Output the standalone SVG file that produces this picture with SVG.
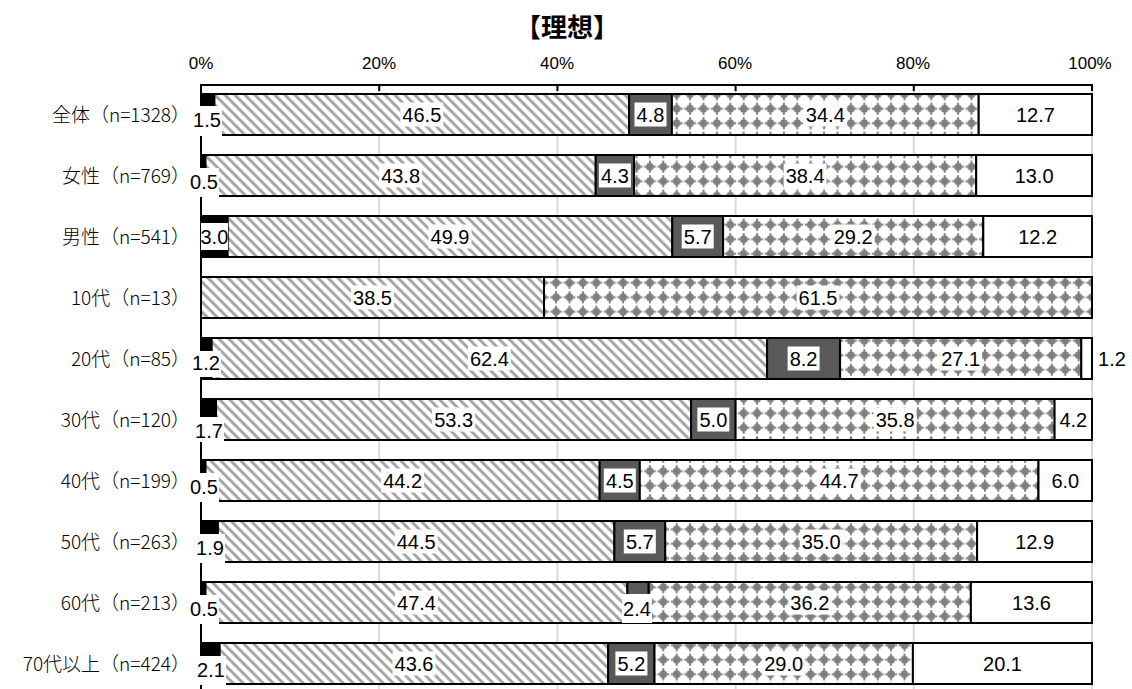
<svg xmlns="http://www.w3.org/2000/svg" width="1132" height="689" viewBox="0 0 1132 689">
<style>
.title{font-family:"Noto Sans CJK JP","Liberation Sans",sans-serif;font-size:26px;font-weight:bold;text-anchor:middle;fill:#000}
.ax{font-family:"Liberation Sans","DejaVu Sans",sans-serif;font-size:17px;text-anchor:middle;fill:#000}
.cat{font-family:"Noto Sans CJK JP","Liberation Sans",sans-serif;font-size:19px;font-weight:300;text-anchor:end;fill:#000}
.v{font-family:"Liberation Sans","DejaVu Sans",sans-serif;font-size:20px;text-anchor:middle;fill:#000}
.grid{stroke:#d9d9d9;stroke-width:2}
.seg{stroke:#000;stroke-width:2}
.k{fill:#000}
.h{fill:url(#hatch)}
.d{fill:#595959}
.p{fill:url(#dots)}
.w{fill:#fff}
.lb{fill:#fff}
</style>
<defs>
<pattern id="hatch" patternUnits="userSpaceOnUse" width="10" height="10">
<rect width="10" height="10" fill="#fff"/>
<path d="M-3,-3 L13,13 M-3,7 L3,13 M7,-3 L13,3" stroke="#a6a6a6" stroke-width="3"/>
</pattern>
<pattern id="dots" patternUnits="userSpaceOnUse" width="13.4" height="14.5">
<rect width="13.4" height="14.5" fill="#fff"/>
<circle cx="6.7" cy="7.25" r="3.8" fill="#7f7f7f"/>
<path d="M0.8,7.25 H12.6 M6.7,1.2 V13.3" stroke="#7f7f7f" stroke-width="2"/>
</pattern>
</defs>

<text class="title" x="567" y="37">【理想】</text>

<g id="axis">
<g class="grid">
<line x1="379.2" y1="86" x2="379.2" y2="689"/>
<line x1="557.4" y1="86" x2="557.4" y2="689"/>
<line x1="735.6" y1="86" x2="735.6" y2="689"/>
<line x1="913.8" y1="86" x2="913.8" y2="689"/>
<line x1="1092" y1="86" x2="1092" y2="689"/>
</g>
<line x1="200" y1="85" x2="1093" y2="85" stroke="#000" stroke-width="2"/>
<line x1="201" y1="84" x2="201" y2="689" stroke="#000" stroke-width="2"/>
<g stroke="#000" stroke-width="2">
<line x1="379.2" y1="85" x2="379.2" y2="91"/>
<line x1="557.4" y1="85" x2="557.4" y2="91"/>
<line x1="735.6" y1="85" x2="735.6" y2="91"/>
<line x1="913.8" y1="85" x2="913.8" y2="91"/>
<line x1="1092" y1="85" x2="1092" y2="91"/>
</g>
<text class="ax" x="201" y="69">0%</text>
<text class="ax" x="379" y="69">20%</text>
<text class="ax" x="557" y="69">40%</text>
<text class="ax" x="735" y="69">60%</text>
<text class="ax" x="913" y="69">80%</text>
<text class="ax" x="1090" y="69">100%</text>
</g>

<g id="bars" class="seg">
<g id="row0">
<rect class="k" x="201" y="94" width="13.4" height="41"/>
<rect class="h" x="214.4" y="94" width="414.7" height="41"/>
<rect class="d" x="629.1" y="94" width="42.8" height="41"/>
<rect class="p" x="671.9" y="94" width="306.8" height="41"/>
<rect class="w" x="978.7" y="94" width="113.3" height="41"/>
</g>
<g id="row1">
<rect class="k" x="201" y="155" width="4.5" height="41"/>
<rect class="h" x="205.5" y="155" width="390.2" height="41"/>
<rect class="d" x="595.7" y="155" width="38.3" height="41"/>
<rect class="p" x="634" y="155" width="342.2" height="41"/>
<rect class="w" x="976.2" y="155" width="115.8" height="41"/>
</g>
<g id="row2">
<rect class="k" x="201" y="216" width="26.7" height="41"/>
<rect class="h" x="227.7" y="216" width="444.6" height="41"/>
<rect class="d" x="672.3" y="216" width="50.8" height="41"/>
<rect class="p" x="723.1" y="216" width="260.2" height="41"/>
<rect class="w" x="983.3" y="216" width="108.7" height="41"/>
</g>
<g id="row3">
<rect class="h" x="201" y="277" width="343" height="41"/>
<rect class="p" x="544" y="277" width="548" height="41"/>
</g>
<g id="row4">
<rect class="k" x="201" y="338" width="10.7" height="41"/>
<rect class="h" x="211.7" y="338" width="555.4" height="41"/>
<rect class="d" x="767.1" y="338" width="73" height="41"/>
<rect class="p" x="840.1" y="338" width="241.2" height="41"/>
<rect class="w" x="1081.3" y="338" width="10.7" height="41"/>
</g>
<g id="row5">
<rect class="k" x="201" y="399" width="15.1" height="41"/>
<rect class="h" x="216.1" y="399" width="475" height="41"/>
<rect class="d" x="691.1" y="399" width="44.5" height="41"/>
<rect class="p" x="735.6" y="399" width="319" height="41"/>
<rect class="w" x="1054.6" y="399" width="37.4" height="41"/>
</g>
<g id="row6">
<rect class="k" x="201" y="460" width="4.5" height="41"/>
<rect class="h" x="205.5" y="460" width="394.2" height="41"/>
<rect class="d" x="599.7" y="460" width="40.1" height="41"/>
<rect class="p" x="639.8" y="460" width="398.7" height="41"/>
<rect class="w" x="1038.5" y="460" width="53.5" height="41"/>
</g>
<g id="row7">
<rect class="k" x="201" y="521" width="16.9" height="41"/>
<rect class="h" x="217.9" y="521" width="396.5" height="41"/>
<rect class="d" x="614.4" y="521" width="50.8" height="41"/>
<rect class="p" x="665.2" y="521" width="311.9" height="41"/>
<rect class="w" x="977.1" y="521" width="114.9" height="41"/>
</g>
<g id="row8">
<rect class="k" x="201" y="582" width="4.5" height="41"/>
<rect class="h" x="205.5" y="582" width="421.9" height="41"/>
<rect class="d" x="627.4" y="582" width="21.3" height="41"/>
<rect class="p" x="648.7" y="582" width="322.2" height="41"/>
<rect class="w" x="970.9" y="582" width="121.1" height="41"/>
</g>
<g id="row9">
<rect class="k" x="201" y="643" width="18.7" height="41"/>
<rect class="h" x="219.7" y="643" width="388.5" height="41"/>
<rect class="d" x="608.2" y="643" width="46.3" height="41"/>
<rect class="p" x="654.5" y="643" width="258.4" height="41"/>
<rect class="w" x="912.9" y="643" width="179.1" height="41"/>
</g>
</g>

<g id="categories">
<text class="cat" x="190" y="122">全体（n=1328）</text>
<text class="cat" x="190" y="183">女性（n=769）</text>
<text class="cat" x="190" y="244">男性（n=541）</text>
<text class="cat" x="190" y="305">10代（n=13）</text>
<text class="cat" x="190" y="366">20代（n=85）</text>
<text class="cat" x="190" y="427">30代（n=120）</text>
<text class="cat" x="190" y="488">40代（n=199）</text>
<text class="cat" x="190" y="549">50代（n=263）</text>
<text class="cat" x="190" y="610">60代（n=213）</text>
<text class="cat" x="190" y="671">70代以上（n=424）</text>
</g>

<g id="labels">
<rect class="lb" x="192" y="106" width="30" height="30"/><text class="v" x="207" y="127">1.5</text>
<rect class="lb" x="189" y="168" width="30" height="29"/><text class="v" x="204" y="189">0.5</text>
<rect class="lb" x="201" y="223" width="27" height="27"/><text class="v" x="214.4" y="244">3.0</text>
<rect class="lb" x="191" y="351" width="30" height="26"/><text class="v" x="206" y="370">1.2</text>
<rect class="lb" x="194" y="417" width="30" height="25"/><text class="v" x="209" y="438">1.7</text>
<rect class="lb" x="189" y="473" width="30" height="29"/><text class="v" x="204" y="494">0.5</text>
<rect class="lb" x="195" y="534" width="30" height="29"/><text class="v" x="210" y="555">1.9</text>
<rect class="lb" x="189" y="595" width="30" height="29"/><text class="v" x="204" y="616">0.5</text>
<rect class="lb" x="196" y="656" width="30" height="29"/><text class="v" x="211" y="677">2.1</text>
<rect class="lb" x="622" y="594" width="30" height="29"/><text class="v" x="637" y="616">2.4</text>
<text class="v" x="1112" y="365.5">1.2</text>

<rect class="lb" x="400.3" y="102.5" width="43" height="24"/><text class="v" x="421.8" y="121.5">46.5</text>
<rect class="lb" x="634.5" y="102.5" width="32" height="24"/><text class="v" x="650.5" y="121.5">4.8</text>
<rect class="lb" x="803.8" y="102.5" width="43" height="24"/><text class="v" x="825.3" y="121.5">34.4</text>
<rect class="lb" x="1013.9" y="102.5" width="43" height="24"/><text class="v" x="1035.4" y="121.5">12.7</text>

<rect class="lb" x="379.1" y="163.5" width="43" height="24"/><text class="v" x="400.6" y="182.5">43.8</text>
<rect class="lb" x="598.9" y="163.5" width="32" height="24"/><text class="v" x="614.9" y="182.5">4.3</text>
<rect class="lb" x="783.6" y="163.5" width="43" height="24"/><text class="v" x="805.1" y="182.5">38.4</text>
<rect class="lb" x="1012.6" y="163.5" width="43" height="24"/><text class="v" x="1034.1" y="182.5">13.0</text>

<rect class="lb" x="428.5" y="224.5" width="43" height="24"/><text class="v" x="450" y="243.5">49.9</text>
<rect class="lb" x="681.7" y="224.5" width="32" height="24"/><text class="v" x="697.7" y="243.5">5.7</text>
<rect class="lb" x="831.7" y="224.5" width="43" height="24"/><text class="v" x="853.2" y="243.5">29.2</text>
<rect class="lb" x="1016.2" y="224.5" width="43" height="24"/><text class="v" x="1037.7" y="243.5">12.2</text>

<rect class="lb" x="351" y="285.5" width="43" height="24"/><text class="v" x="372.5" y="304.5">38.5</text>
<rect class="lb" x="796.5" y="285.5" width="43" height="24"/><text class="v" x="818" y="304.5">61.5</text>

<rect class="lb" x="467.9" y="346.5" width="43" height="24"/><text class="v" x="489.4" y="365.5">62.4</text>
<rect class="lb" x="787.6" y="346.5" width="32" height="24"/><text class="v" x="803.6" y="365.5">8.2</text>
<rect class="lb" x="939.2" y="346.5" width="43" height="24"/><text class="v" x="960.7" y="365.5">27.1</text>

<rect class="lb" x="432.1" y="407.5" width="43" height="24"/><text class="v" x="453.6" y="426.5">53.3</text>
<rect class="lb" x="697.4" y="407.5" width="32" height="24"/><text class="v" x="713.4" y="426.5">5.0</text>
<rect class="lb" x="873.6" y="407.5" width="43" height="24"/><text class="v" x="895.1" y="426.5">35.8</text>
<rect class="lb" x="1057.3" y="407.5" width="32" height="24"/><text class="v" x="1073.3" y="426.5">4.2</text>

<rect class="lb" x="381.1" y="468.5" width="43" height="24"/><text class="v" x="402.6" y="487.5">44.2</text>
<rect class="lb" x="603.8" y="468.5" width="32" height="24"/><text class="v" x="619.8" y="487.5">4.5</text>
<rect class="lb" x="817.7" y="468.5" width="43" height="24"/><text class="v" x="839.2" y="487.5">44.7</text>
<rect class="lb" x="1049.3" y="468.5" width="32" height="24"/><text class="v" x="1065.3" y="487.5">6.0</text>

<rect class="lb" x="394.7" y="529.5" width="43" height="24"/><text class="v" x="416.2" y="548.5">44.5</text>
<rect class="lb" x="623.8" y="529.5" width="32" height="24"/><text class="v" x="639.8" y="548.5">5.7</text>
<rect class="lb" x="799.7" y="529.5" width="43" height="24"/><text class="v" x="821.2" y="548.5">35.0</text>
<rect class="lb" x="1013.1" y="529.5" width="43" height="24"/><text class="v" x="1034.6" y="548.5">12.9</text>

<rect class="lb" x="395" y="590.5" width="43" height="24"/><text class="v" x="416.5" y="609.5">47.4</text>
<rect class="lb" x="788.3" y="590.5" width="43" height="24"/><text class="v" x="809.8" y="609.5">36.2</text>
<rect class="lb" x="1010" y="590.5" width="43" height="24"/><text class="v" x="1031.5" y="609.5">13.6</text>

<rect class="lb" x="392.5" y="651.5" width="43" height="24"/><text class="v" x="414" y="670.5">43.6</text>
<rect class="lb" x="615.4" y="651.5" width="32" height="24"/><text class="v" x="631.4" y="670.5">5.2</text>
<rect class="lb" x="762.2" y="651.5" width="43" height="24"/><text class="v" x="783.7" y="670.5">29.0</text>
<rect class="lb" x="981" y="651.5" width="43" height="24"/><text class="v" x="1002.5" y="670.5">20.1</text>
</g>
</svg>
